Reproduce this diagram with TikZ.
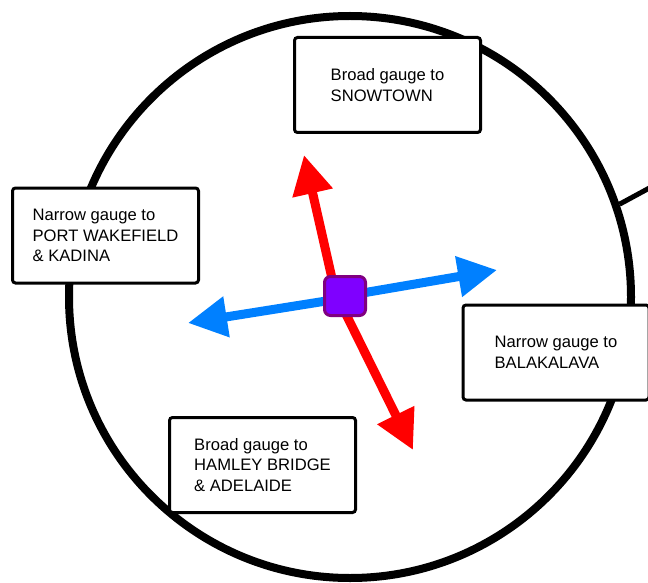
\documentclass[tikz,border=0pt]{standalone}
\usepackage{fontspec}
\setmainfont{Liberation Sans}
\usepackage{tikz}
\usetikzlibrary{arrows.meta}
\definecolor{gaugered}{RGB}{255,0,0}
\definecolor{gaugeblue}{RGB}{0,128,255}
\definecolor{hubfill}{RGB}{127,0,255}
\definecolor{hubdraw}{RGB}{128,0,128}
\tikzset{
  ring/.style     = {circle, draw=black, line width=4pt, minimum size=281pt, inner sep=0pt},
  spur/.style     = {draw=black, line width=2.5pt},
  board/.style    = {draw=black, fill=white, line width=1.5pt, rounded corners=1.5pt, align=left, minimum width=93pt, minimum height=47.5pt, inner sep=0pt, font=\fontsize{8.3}{10.4}\selectfont},
  junction/.style = {draw=hubdraw, fill=hubfill, line width=1.5pt, rounded corners=3pt, minimum width=20.5pt, minimum height=19.5pt, inner sep=0pt},
  broad/.style    = {-{Triangle[length=19.5pt,width=19.5pt]}, draw=gaugered, line width=4.5pt},
  narrow/.style   = {-{Triangle[length=19.5pt,width=19.5pt]}, draw=gaugeblue, line width=4.5pt},
}

\begin{document}
\begin{tikzpicture}[x=0.5pt, y=-0.5pt]
  \clip (0,0) rectangle (648,583);
  % ring line and the spur leaving it
  \node[ring] (ring) at (350,297) {};
  \coordinate (spurend) at (690,166);
  \draw[spur] (ring.19) -- (spurend);

  % ---------- gauge arrows ----------
  \coordinate (hub) at (345,296);
  \coordinate (snowtip) at (304,155);
  \coordinate (adltip) at (413,450);
  \coordinate (baltip) at (497,270);
  \coordinate (kadtip) at (188,323);
  \draw[broad] ([xshift=-4.5pt]hub) -- (snowtip);
  \draw[broad] ([xshift=-4pt]hub) -- (adltip);
  \draw[narrow] (hub) -- (baltip);
  \draw[narrow] ([yshift=-1pt]hub) -- (kadtip);
  \node[junction] (sq) at (hub) {};

  % ---------- destinations ----------
  \node[board] (snow) at (387.5,85) {Broad gauge to\\SNOWTOWN};
  \node[board] (pwk) at (105.5,235.5) {Narrow gauge to\\PORT WAKEFIELD\\\& KADINA};
  \node[board] (bal) at (556,352.5) {Narrow gauge to\\BALAKALAVA};
  \node[board] (hmb) at (262.5,465) {Broad gauge to\\HAMLEY BRIDGE\\\& ADELAIDE};
\end{tikzpicture}
\end{document}
